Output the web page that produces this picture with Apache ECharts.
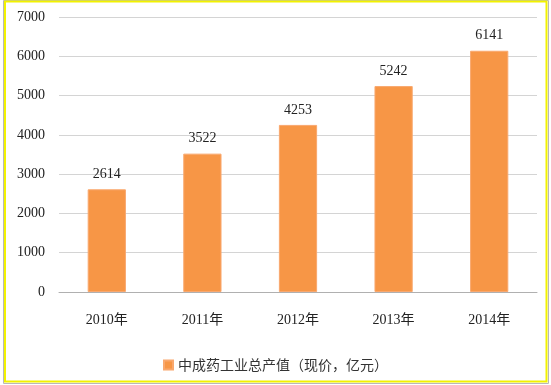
<!DOCTYPE html>
<html>
<head>
<meta charset="utf-8">
<script src="https://cdn.jsdelivr.net/npm/echarts@6/dist/echarts.min.js"></script>
<style>
html,body{margin:0;padding:0;background:#fff;}
#c{width:551px;height:385px;}
</style>
</head>
<body>
<div id="c"></div>
<script>
var categories = ['2010年', '2011年', '2012年', '2013年', '2014年'];
var values = [2614, 3522, 4253, 5242, 6141];
var seriesName = '中成药工业总产值（现价，亿元）';
var yMin = 0, yMax = 7000, yStep = 1000;

var serif = "'Liberation Serif', 'Times New Roman', 'Noto Sans CJK SC', serif";
var chart = echarts.init(document.getElementById('c'), null, {renderer: 'canvas'});
chart.setOption({
  animation: false,
  backgroundColor: '#fff',
  graphic: [
    {type: 'rect', shape: {x: 3.5, y: 0.5, width: 545, height: 383}, style: {fill: 'none', stroke: '#b8b8b8', lineWidth: 1}, silent: true},
    {type: 'rect', shape: {x: 5, y: 1.5, width: 541.5, height: 380}, style: {fill: 'none', stroke: '#f2f200', lineWidth: 2}, silent: true}
  ],
  grid: {left: 59, right: 14, top: 17, bottom: 93, containLabel: false},
  legend: {
    bottom: 8,
    left: 'center',
    itemWidth: 9,
    itemHeight: 9,
    itemGap: 4,
    icon: 'rect',
    textStyle: {fontFamily: "'Noto Sans CJK SC', sans-serif", fontSize: 14, color: '#333'},
    data: [seriesName]
  },
  xAxis: {
    type: 'category',
    data: categories,
    axisLine: {lineStyle: {color: '#b0b0b0', width: 1}},
    axisTick: {show: false},
    axisLabel: {fontFamily: serif, fontSize: 14, color: '#222', margin: 21}
  },
  yAxis: {
    type: 'value',
    min: yMin, max: yMax, interval: yStep,
    axisLine: {show: false},
    axisTick: {show: false},
    splitLine: {lineStyle: {color: '#d4d4d4', width: 1}},
    axisLabel: {fontFamily: serif, fontSize: 14, color: '#222', margin: 14,
      formatter: function (v) { return String(v); }}
  },
  series: [{
    name: seriesName,
    type: 'bar',
    data: values,
    barWidth: '40%',
    itemStyle: {color: '#F79646', borderColor: '#F9A86E', borderWidth: 1},
    label: {show: true, position: 'top', distance: 8, fontFamily: serif, fontSize: 14, color: '#222'}
  }]
});
</script>
</body>
</html>
